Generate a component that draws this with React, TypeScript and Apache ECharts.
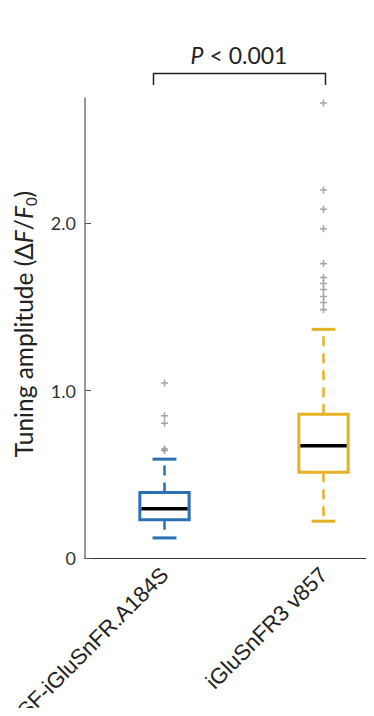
import React, { useEffect, useRef } from "react";
import * as echarts from "echarts";

const categories = ["SF-iGluSnFR.A184S", "iGluSnFR3 v857"];
const lowerWhisker = [0.12, 0.22];
const q1 = [0.228, 0.513];
const median = [0.295, 0.671];
const q3 = [0.391, 0.86];
const upperWhisker = [0.591, 1.367];
const outliersA = [1.046, 0.85, 0.806, 0.652, 0.643];
const outliersB = [2.72, 2.2, 2.085, 1.968, 1.76, 1.677, 1.641, 1.605, 1.563, 1.527, 1.485];
const boxColors = ["#2a70b3", "#e6b124"];
const yMin = 0;
const yMax = 2.75;
const yInterval = 1;
const pLabel = "< 0.001";

const PLUS = "path://M2.7,0H4.3V2.7H7V4.3H4.3V7H2.7V4.3H0V2.7H2.7Z";

export default function App() {
  const ref = useRef<HTMLDivElement>(null);
  useEffect(() => {
    if (!ref.current) return;
    const chart = echarts.init(ref.current, undefined, { renderer: "svg" });
    const boxData = categories.map((_, i) => [i, lowerWhisker[i], q1[i], median[i], q3[i], upperWhisker[i]]);
    const outlierData: number[][] = [];
    outliersA.forEach((v) => outlierData.push([0, v]));
    outliersB.forEach((v) => outlierData.push([1, v]));

    chart.setOption({
      animation: false,
      grid: { left: 85, top: 98, bottom: 158, right: -29, containLabel: false, outerBoundsMode: "none" },
      xAxis: {
        type: "category",
        data: categories,
        boundaryGap: true,
        axisLine: { lineStyle: { color: "#333", width: 1.2 } },
        axisTick: { alignWithLabel: true, length: 4, lineStyle: { color: "#333" } },
        axisLabel: {
          rotate: 45,
          margin: 13,
          fontFamily: "Liberation Sans",
          fontSize: 22,
          color: "#222",
          interval: 0,
        },
      },
      yAxis: {
        type: "value",
        min: yMin,
        max: yMax,
        interval: yInterval,
        axisLine: { show: true, lineStyle: { color: "#777", width: 1.5 } },
        axisTick: { show: true, inside: true, length: 6, lineStyle: { color: "#555" } },
        splitLine: { show: false },
        axisLabel: {
          margin: 9,
          fontFamily: "Lato",
          fontSize: 18,
          color: "#333",
          showMaxLabel: false,
          formatter: (v: number) => (v === 0 ? "0" : v.toFixed(1)),
        },
      },
      series: [
        {
          type: "custom",
          data: boxData,
          encode: { x: 0, y: [1, 2, 3, 4, 5] },
          renderItem: (params: any, api: any) => {
            const idx = api.value(0);
            const color = boxColors[params.dataIndex];
            const band = api.size([1, 0])[0];
            const bw = band * 0.31;
            const cw = band * 0.15;
            const pLow = api.coord([idx, api.value(1)]);
            const pQ1 = api.coord([idx, api.value(2)]);
            const pMed = api.coord([idx, api.value(3)]);
            const pQ3 = api.coord([idx, api.value(4)]);
            const pHigh = api.coord([idx, api.value(5)]);
            const cx = pMed[0];
            return {
              type: "group",
              children: [
                {
                  type: "line",
                  shape: { x1: cx, y1: pQ3[1], x2: cx, y2: pHigh[1] },
                  style: { stroke: color, lineWidth: 2.5, lineDash: [10, 7] },
                },
                {
                  type: "line",
                  shape: { x1: cx, y1: pQ1[1], x2: cx, y2: pLow[1] },
                  style: { stroke: color, lineWidth: 2.5, lineDash: [10, 7] },
                },
                {
                  type: "line",
                  shape: { x1: cx - cw / 2, y1: pHigh[1], x2: cx + cw / 2, y2: pHigh[1] },
                  style: { stroke: color, lineWidth: 3 },
                },
                {
                  type: "line",
                  shape: { x1: cx - cw / 2, y1: pLow[1], x2: cx + cw / 2, y2: pLow[1] },
                  style: { stroke: color, lineWidth: 3 },
                },
                {
                  type: "rect",
                  shape: { x: cx - bw / 2, y: pQ3[1], width: bw, height: pQ1[1] - pQ3[1] },
                  style: { fill: "#fff", stroke: color, lineWidth: 3 },
                },
                {
                  type: "line",
                  shape: { x1: cx - bw / 2 + 1.5, y1: pMed[1], x2: cx + bw / 2 - 1.5, y2: pMed[1] },
                  style: { stroke: "#000", lineWidth: 3.5 },
                },
              ],
            };
          },
        },
        {
          type: "scatter",
          data: outlierData,
          symbol: PLUS,
          symbolSize: 7,
          itemStyle: { color: "#909090" },
        },
      ],
      graphic: [
        {
          type: "text",
          x: 23,
          y: 324,
          rotation: Math.PI / 2,
          style: {
            text: "Tuning amplitude (Δ{i|F}/{i|F}{sub|0})",
            fontFamily: "Lato",
            fontSize: 24.5,
            lineHeight: 30,
            fill: "#222",
            align: "center",
            verticalAlign: "middle",
            rich: {
              i: { fontStyle: "italic", fontFamily: "Lato", fontSize: 24.5, lineHeight: 30, fill: "#222" },
              sub: { fontFamily: "Lato", fontSize: 15, lineHeight: 15, verticalAlign: "bottom", fill: "#222" },
            },
          },
        },
        {
          type: "text",
          x: 239,
          y: 55,
          style: {
            text: "{i|P} " + pLabel,
            fontFamily: "Lato",
            fontSize: 23,
            fill: "#222",
            align: "center",
            verticalAlign: "middle",
            rich: {
              i: { fontStyle: "italic", fontFamily: "Lato", fontSize: 23, fill: "#222" },
            },
          },
        },
        {
          type: "polyline",
          shape: { points: [[153.5, 85], [153.5, 73.5], [325.5, 73.5], [325.5, 85]] },
          style: { stroke: "#222", lineWidth: 1.5, fill: null },
        },
      ],
    });
    return () => chart.dispose();
  }, []);
  return <div ref={ref} style={{ width: 374, height: 716, margin: -8 }} />;
}
